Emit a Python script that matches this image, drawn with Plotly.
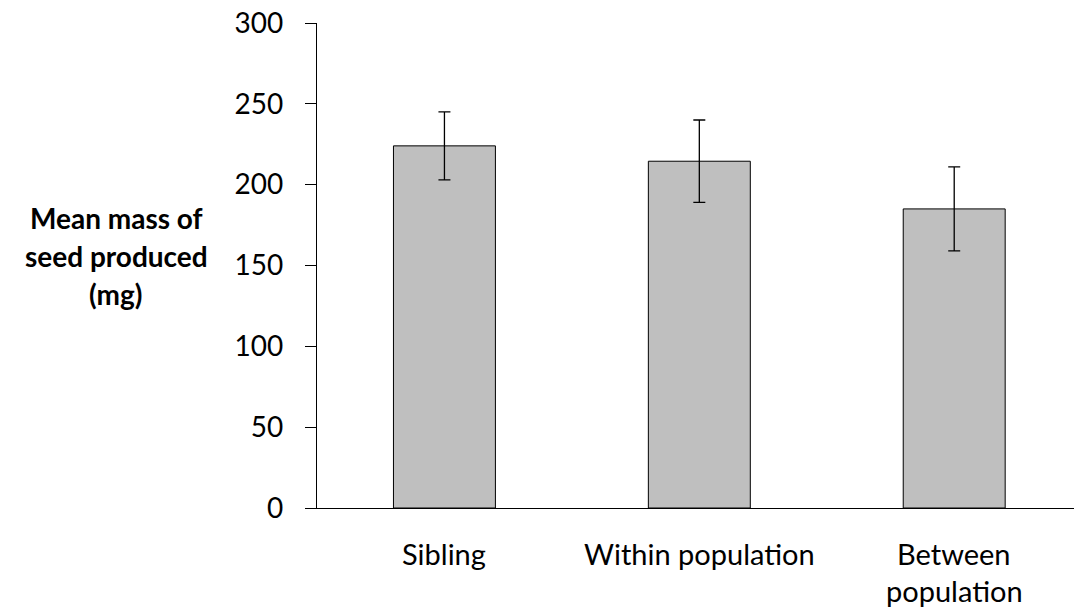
import plotly.graph_objects as go

# Mean seed mass (mg) by crossing type, with error bar half-widths
categories = ["Sibling", "Within population", "Between population"]
label_lines = [["Sibling"], ["Within population"], ["Between", "population"]]
mean_mass = [224, 214.5, 185]
error_mass = [21, 25.5, 26]
y_ticks = [0, 50, 100, 150, 200, 250, 300]
title_lines = ["Mean mass of", "seed produced", "(mg)"]

FONT = "Lato"
TEXT_SIZE = 29

fig = go.Figure()
fig.add_trace(go.Bar(
    x=categories,
    y=mean_mass,
    width=0.40,
    marker=dict(color="#BFBFBF", line=dict(color="#000000", width=1)),
    error_y=dict(type="data", array=error_mass, visible=True,
                 color="#000000", thickness=1.3, width=6),
    showlegend=False,
))

fig.update_layout(
    width=1074, height=613,
    margin=dict(l=317, r=0, t=23, b=105),
    plot_bgcolor="white", paper_bgcolor="white",
    font=dict(family=FONT, size=TEXT_SIZE, color="#000000"),
    xaxis=dict(
        range=[-0.5, 2.47], showticklabels=False, ticks="",
        showline=True, linecolor="#000000", linewidth=1.3,
        showgrid=False, zeroline=False,
    ),
    yaxis=dict(
        range=[0, 300], tickvals=y_ticks, ticks="outside", ticklen=11,
        tickcolor="#000000", tickwidth=1.3, ticklabelstandoff=16,
        showline=True, linecolor="#000000", linewidth=1.3,
        showgrid=False, zeroline=False,
        tickfont=dict(family=FONT, size=28, color="#000000"),
    ),
)

# Category labels below the axis, one annotation per line
for cat, lines in zip(categories, label_lines):
    for i, line in enumerate(lines):
        fig.add_annotation(
            x=cat, xref="x", y=0, yref="paper", yanchor="middle",
            yshift=-45 - 37 * i, text=line, showarrow=False,
            font=dict(family=FONT, size=TEXT_SIZE, color="#000000"),
        )

# Horizontal y-axis title, three bold centred lines
for i, line in enumerate(title_lines):
    fig.add_annotation(
        x=-0.2655, xref="paper", xanchor="center",
        y=0.5196, yref="paper", yanchor="middle",
        yshift=38 - 38 * i, text="<b>" + line + "</b>", showarrow=False,
        font=dict(family=FONT, size=28, color="#000000"),
    )

fig.write_html("out.html")
